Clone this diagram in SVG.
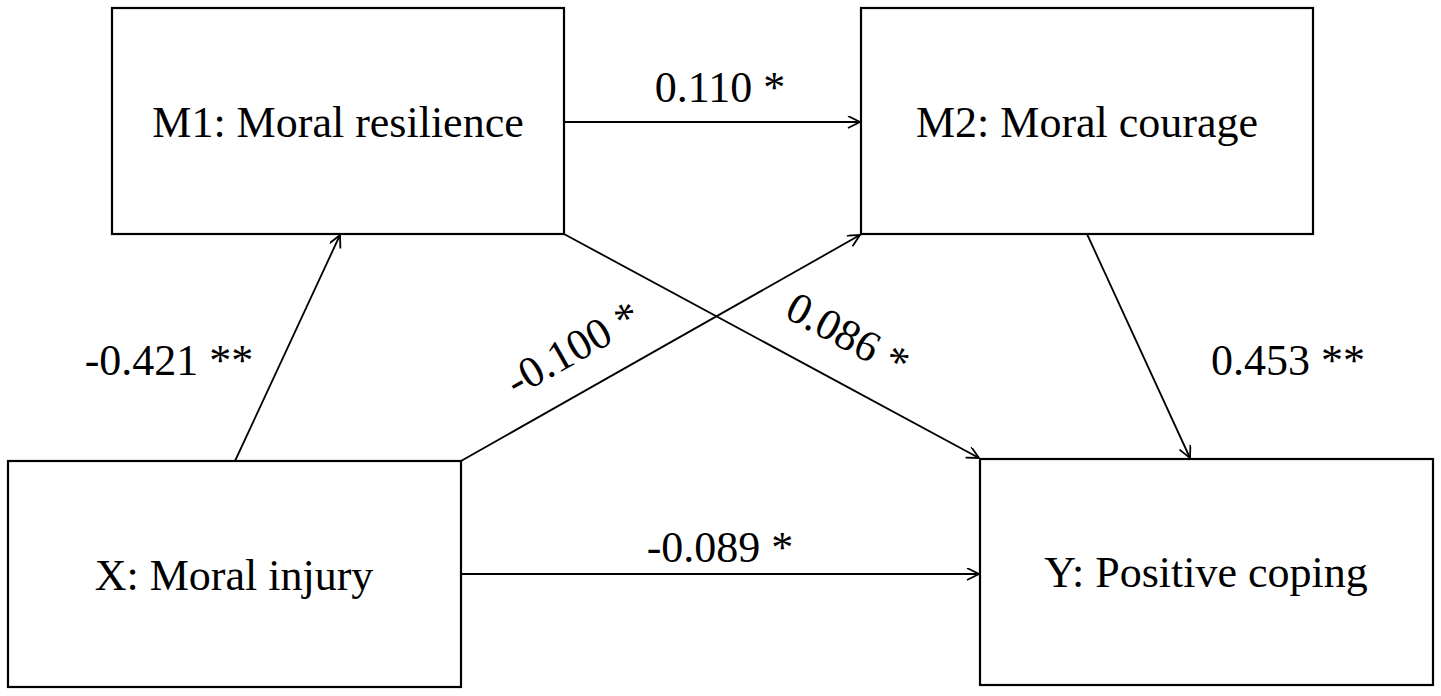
<svg xmlns="http://www.w3.org/2000/svg" width="1441" height="696" viewBox="0 0 1441 696">
<defs>
<style>
.box{fill:#fff;stroke:#000;stroke-width:2.2}
.lbl{font-family:"Liberation Serif","Times New Roman",serif;font-size:44px;fill:#000;text-anchor:middle}
.edge{stroke:#000;stroke-width:1.8;fill:none;marker-end:url(#arr)}
</style>
<marker id="arr" markerUnits="userSpaceOnUse" markerWidth="16" markerHeight="16" refX="13" refY="6" orient="auto">
<path d="M1,0 L13,6 L1,12" fill="none" stroke="#000" stroke-width="1.8"/>
</marker>
</defs>
<rect width="1441" height="696" fill="#fff"/>
<g id="connectors">
<line class="edge" x1="564" y1="122" x2="860" y2="122"/>
<line class="edge" x1="235" y1="461" x2="340" y2="235"/>
<line class="edge" x1="461" y1="461" x2="860" y2="235"/>
<line class="edge" x1="564" y1="234" x2="979" y2="458"/>
<line class="edge" x1="1087" y1="234" x2="1190" y2="458"/>
<line class="edge" x1="461" y1="574" x2="979" y2="574"/>
<text class="lbl" x="720" y="102">0.110 *</text>
<text class="lbl" x="169" y="375">-0.421 **</text>
<text class="lbl" x="1288" y="375">0.453 **</text>
<text class="lbl" x="720" y="562">-0.089 *</text>
<text class="lbl" transform="translate(580,361) rotate(-29.6)">-0.100 *</text>
<text class="lbl" transform="translate(841,348) rotate(28.4)">0.086 *</text>
</g>
<g id="m1">
<rect class="box" x="112" y="8" width="452" height="226"/>
<text class="lbl" x="338" y="137">M1: Moral resilience</text>
</g>
<g id="m2">
<rect class="box" x="861" y="8" width="452" height="226"/>
<text class="lbl" x="1087" y="137">M2: Moral courage</text>
</g>
<g id="x">
<rect class="box" x="8" y="461" width="453" height="226"/>
<text class="lbl" x="234" y="590">X: Moral injury</text>
</g>
<g id="y">
<rect class="box" x="980" y="459" width="453" height="226"/>
<text class="lbl" x="1206" y="587">Y: Positive coping</text>
</g>
</svg>
